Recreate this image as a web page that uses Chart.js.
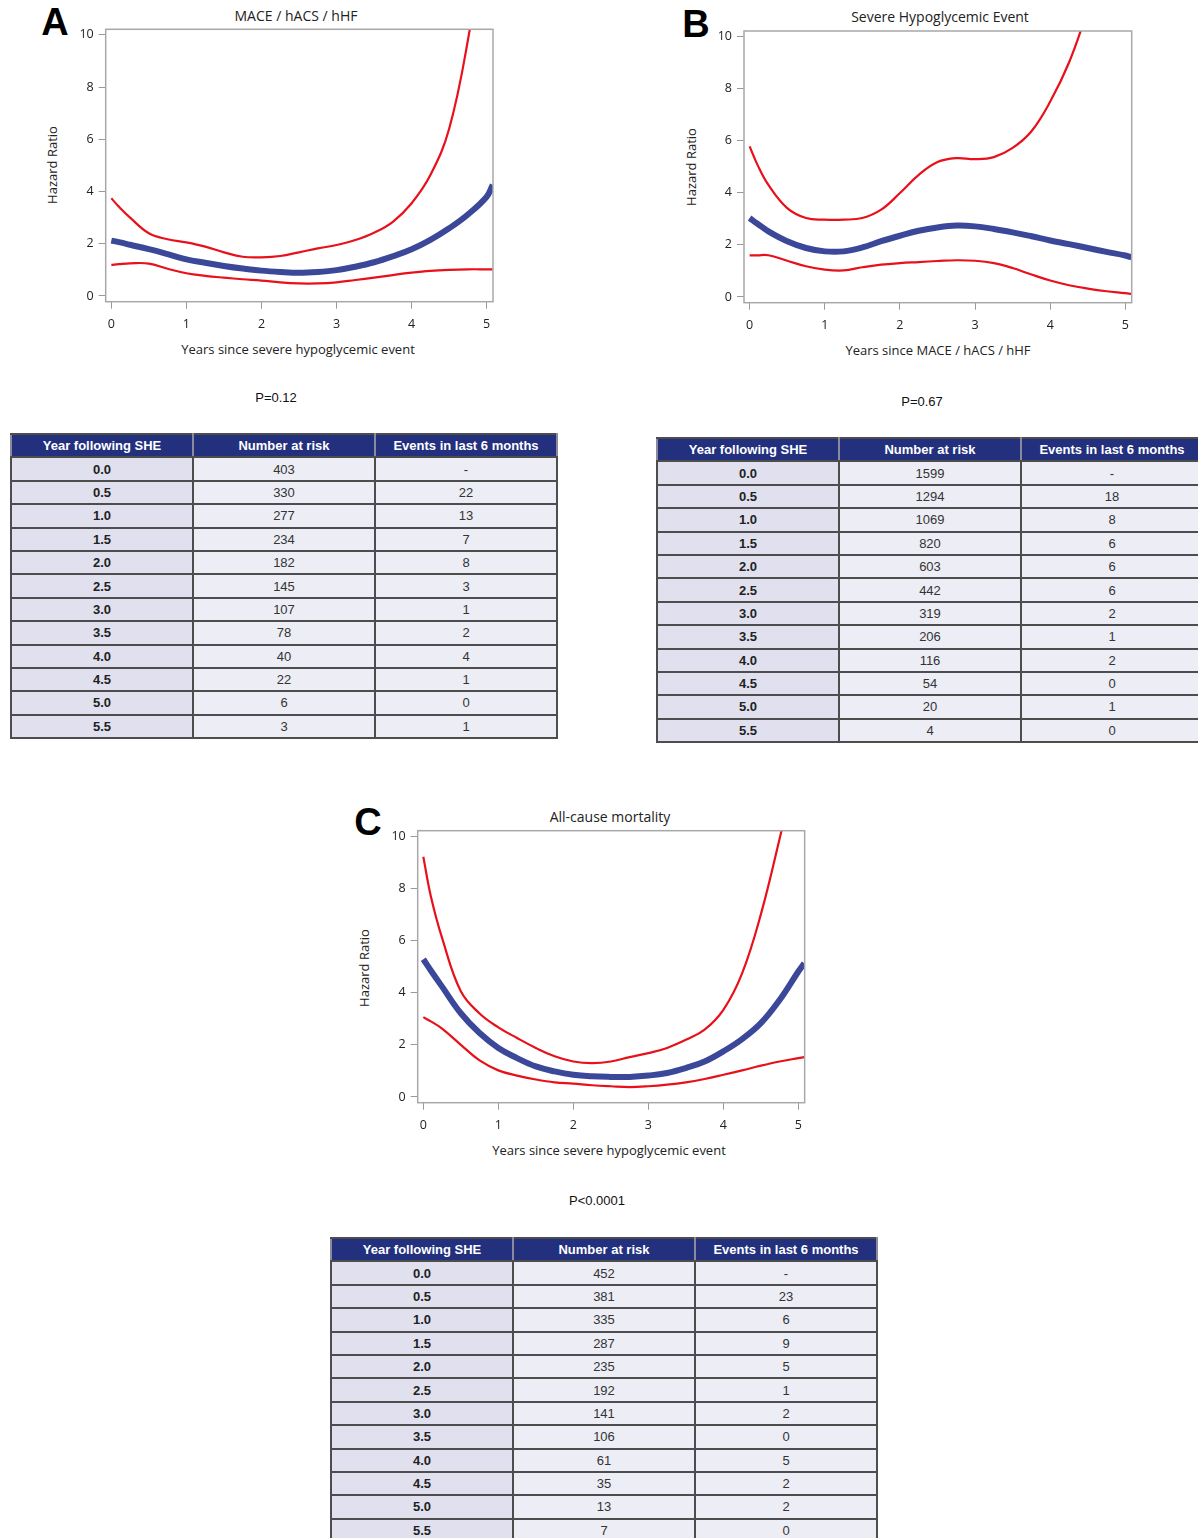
<!DOCTYPE html>
<html>
<head>
<meta charset="utf-8">
<script src="https://cdn.jsdelivr.net/npm/chart.js@4.4.0/dist/chart.umd.min.js"></script>
<style>
  html, body { margin: 0; padding: 0; background: #fff; width: 1198px; height: 1538px; overflow: hidden; }
  body { position: relative; }
  canvas { position: absolute; }
  .t { position: absolute; transform: translate(-50%, -50%); white-space: nowrap; font-family: "Open Sans", sans-serif; font-size: 13px; color: #222; }
  .ttl { font-size: 14px; }
  .rot { transform: translate(-50%, -50%) rotate(-90deg); }
  .letter { position: absolute; transform: translate(-50%, -50%); font-family: "Liberation Sans", Arial, sans-serif; font-weight: bold; font-size: 38px; line-height: 1; color: #000; }
  .p { position: absolute; transform: translate(-50%, -50%); font-family: "Liberation Sans", Arial, sans-serif; font-size: 13px; color: #111; }
  table { position: absolute; border-collapse: collapse; table-layout: fixed; width: 546px; font-family: "Liberation Sans", Arial, sans-serif; font-size: 13px; }
  th, td { width: 182px; height: 23.4px; padding: 0; text-align: center; border: 2px solid #4d4d4d; box-sizing: border-box; }
  th { background: #22307e; color: #fff; font-weight: bold; border-color: #4d4d4d #8a8a9a; }
  td { background: #ededf5; color: #333; }
  td.y { background: #e0e0ee; font-weight: bold; color: #222; }
</style>
</head>
<body>
<div class="letter" style="left:55px;top:22px">A</div>
<div class="letter" style="left:696px;top:24px">B</div>
<div class="letter" style="left:368px;top:822px">C</div>

<div class="t ttl" style="left:296px;top:15px">MACE / hACS / hHF</div>
<div class="t ttl" style="left:940px;top:16px">Severe Hypoglycemic Event</div>
<div class="t ttl" style="left:610px;top:816px">All-cause mortality</div>

<div class="t rot" style="left:52px;top:165px">Hazard Ratio</div>
<div class="t rot" style="left:691px;top:167px">Hazard Ratio</div>
<div class="t rot" style="left:364px;top:968px">Hazard Ratio</div>

<div class="t" style="left:298px;top:349px">Years since severe hypoglycemic event</div>
<div class="t" style="left:938px;top:350px">Years since MACE / hACS / hHF</div>
<div class="t" style="left:609px;top:1150px">Years since severe hypoglycemic event</div>

<div class="p" style="left:276px;top:397px">P=0.12</div>
<div class="p" style="left:922px;top:401px">P=0.67</div>
<div class="p" style="left:597px;top:1200px">P&lt;0.0001</div>

<canvas id="chartA" width="460" height="340" style="left:40px;top:0px"></canvas>
<canvas id="chartB" width="460" height="340" style="left:680px;top:0px"></canvas>
<canvas id="chartC" width="460" height="340" style="left:350px;top:800px"></canvas>

<table id="tableA" style="left:10px;top:433px"></table>
<table id="tableB" style="left:656px;top:437px"></table>
<table id="tableC" style="left:330px;top:1237px"></table>

<script>
// years since event (x) for the spline curves
const years = [0, 0.1, 0.25, 0.5, 0.75, 1, 1.25, 1.5, 1.75, 2, 2.25, 2.5, 2.75, 3, 3.25, 3.5, 3.75, 4, 4.25, 4.5, 4.75, 5, 5.08];

// A: MACE / hACS / hHF
const hrA    = [2.12, 2.06, 1.96, 1.79, 1.60, 1.40, 1.27, 1.15, 1.05, 0.97, 0.92, 0.89, 0.92, 0.99, 1.12, 1.29, 1.52, 1.79, 2.15, 2.59, 3.12, 3.80, 4.25];
const upperA = [3.74, 3.42, 3.00, 2.40, 2.17, 2.05, 1.89, 1.67, 1.50, 1.48, 1.53, 1.67, 1.82, 1.95, 2.14, 2.42, 2.84, 3.55, 4.63, 6.40, 9.80, 14.5, 16.0];
const lowerA = [1.19, 1.22, 1.25, 1.24, 1.04, 0.87, 0.77, 0.70, 0.64, 0.59, 0.52, 0.48, 0.48, 0.52, 0.61, 0.70, 0.80, 0.89, 0.96, 1.00, 1.02, 1.02, 1.02];

// B: Severe Hypoglycemic Event
const hrB    = [3.03, 2.82, 2.52, 2.14, 1.88, 1.75, 1.75, 1.90, 2.14, 2.35, 2.54, 2.67, 2.74, 2.71, 2.61, 2.48, 2.33, 2.17, 2.03, 1.88, 1.73, 1.59, 1.52];
const upperB = [5.78, 5.10, 4.30, 3.41, 3.03, 2.97, 2.97, 3.03, 3.35, 3.99, 4.69, 5.18, 5.33, 5.29, 5.37, 5.72, 6.36, 7.50, 9.00, 11.0, 13.0, 15.0, 16.0];
const lowerB = [1.60, 1.60, 1.60, 1.39, 1.18, 1.05, 1.02, 1.14, 1.24, 1.30, 1.34, 1.38, 1.41, 1.39, 1.30, 1.11, 0.86, 0.63, 0.45, 0.32, 0.22, 0.15, 0.12];

// C: All-cause mortality
const hrC    = [5.28, 4.85, 4.23, 3.21, 2.45, 1.88, 1.49, 1.17, 0.98, 0.85, 0.79, 0.77, 0.77, 0.82, 0.92, 1.11, 1.36, 1.75, 2.22, 2.83, 3.72, 4.81, 5.13];
const upperC = [9.21, 7.70, 6.10, 4.05, 3.20, 2.67, 2.26, 1.88, 1.56, 1.36, 1.30, 1.36, 1.53, 1.68, 1.88, 2.19, 2.58, 3.34, 4.74, 7.00, 9.90, 13.0, 14.0];
const lowerC = [3.06, 2.90, 2.62, 2.00, 1.40, 1.02, 0.82, 0.67, 0.56, 0.51, 0.45, 0.41, 0.38, 0.41, 0.47, 0.56, 0.69, 0.85, 1.02, 1.20, 1.36, 1.49, 1.53];

// axis tick labels
const xTicks = [0, 1, 2, 3, 4, 5];
const yTicks = [0, 2, 4, 6, 8, 10];

// number-at-risk tables
const tableYears = ['0.0', '0.5', '1.0', '1.5', '2.0', '2.5', '3.0', '3.5', '4.0', '4.5', '5.0', '5.5'];
const tableHead = ['Year following SHE', 'Number at risk', 'Events in last 6 months'];
const riskA   = [403, 330, 277, 234, 182, 145, 107, 78, 40, 22, 6, 3];
const eventsA = ['-', 22, 13, 7, 8, 3, 1, 2, 4, 1, 0, 1];
const riskB   = [1599, 1294, 1069, 820, 603, 442, 319, 206, 116, 54, 20, 4];
const eventsB = ['-', 18, 8, 6, 6, 6, 2, 1, 2, 0, 1, 0];
const riskC   = [452, 381, 335, 287, 235, 192, 141, 106, 61, 35, 13, 7];
const eventsC = ['-', 23, 6, 9, 5, 1, 2, 0, 5, 2, 2, 0];

const BLUE = '#3b4799';
const RED = '#e8101a';

const framePlugin = {
  id: 'frame',
  afterDatasetsDraw(chart) {
    const a = chart.chartArea, g = chart.ctx;
    g.save();
    g.strokeStyle = '#a8a8a8';
    g.lineWidth = 1.5;
    g.strokeRect(a.left, a.top, a.right - a.left, a.bottom - a.top);
    g.restore();
  }
};

function pts(ys) {
  return years.map((x, i) => ({ x: x, y: ys[i] }));
}

function makeChart(id, hr, lo, hi, box) {
  const line = (ys, color, w) => ({
    data: pts(ys),
    borderColor: color,
    borderWidth: w,
    pointRadius: 0,
    fill: false,
    tension: 0.4
  });
  new Chart(document.getElementById(id), {
    type: 'line',
    data: {
      datasets: [line(lo, RED, 2.2), line(hi, RED, 2.2), line(hr, BLUE, 6)]
    },
    options: {
      responsive: false,
      animation: false,
      devicePixelRatio: 1,
      layout: { padding: { top: box.top, right: 460 - box.right, left: 0, bottom: 0 } },
      plugins: { legend: { display: false }, tooltip: { enabled: false } },
      scales: {
        x: {
          type: 'linear',
          min: -0.075,
          max: 5.084,
          afterBuildTicks: s => { s.ticks = xTicks.map(v => ({ value: v })); },
          afterFit: s => { s.height = 340 - box.bottom; },
          grid: { drawOnChartArea: false, drawTicks: true, tickLength: 7, color: '#999' },
          border: { display: false },
          ticks: { padding: 8, color: '#222', font: { family: 'Open Sans', size: 12.5 } }
        },
        y: {
          min: -0.22,
          max: 10.21,
          afterBuildTicks: s => { s.ticks = yTicks.map(v => ({ value: v })); },
          afterFit: s => { s.width = box.left; },
          grid: { drawOnChartArea: false, drawTicks: true, tickLength: 7, color: '#999' },
          border: { display: false },
          ticks: { padding: 5, color: '#222', font: { family: 'Open Sans', size: 12.5 } }
        }
      }
    },
    plugins: [framePlugin]
  });
}

makeChart('chartA', hrA, lowerA, upperA, { left: 65.7, right: 453, top: 29.3, bottom: 301.7 });
makeChart('chartB', hrB, lowerB, upperB, { left: 64, right: 451.7, top: 31, bottom: 302.7 });
makeChart('chartC', hrC, lowerC, upperC, { left: 67.7, right: 455.3, top: 30.7, bottom: 302.7 });

function fillTable(id, risk, events) {
  let html = '<tr>' + tableHead.map(h => '<th>' + h + '</th>').join('') + '</tr>';
  tableYears.forEach((y, i) => {
    html += '<tr><td class="y">' + y + '</td><td>' + risk[i] + '</td><td>' + events[i] + '</td></tr>';
  });
  document.getElementById(id).innerHTML = html;
}
fillTable('tableA', riskA, eventsA);
fillTable('tableB', riskB, eventsB);
fillTable('tableC', riskC, eventsC);
</script>
</body>
</html>
